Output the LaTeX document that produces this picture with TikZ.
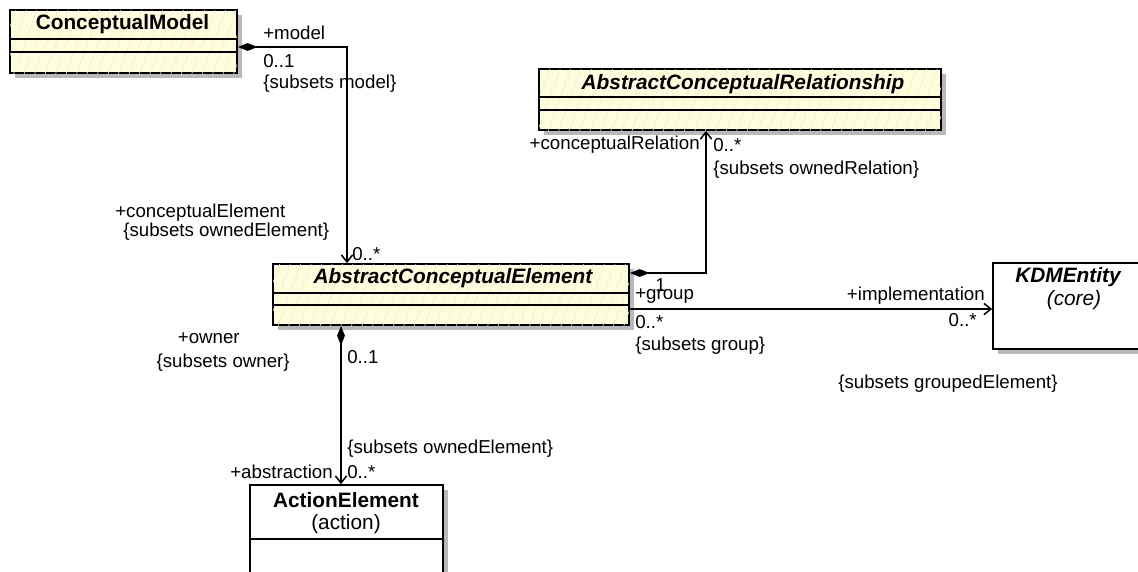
\documentclass[tikz,border=0pt]{standalone}
\usepackage{fontspec}
\setmainfont{Liberation Sans}
\usetikzlibrary{arrows.meta, positioning, calc, fit, shadows, patterns.meta}
\definecolor{classfill}{RGB}{255,253,220}
\definecolor{hatch}{RGB}{240,236,206}
\newcommand{\lblfont}{\fontsize{13.3}{15}\selectfont}
\newcommand{\clsfont}{\fontsize{14.8}{17}\selectfont}

\begin{document}
\begin{tikzpicture}[x=0.025cm, y=-0.025cm,
  classbox/.style={draw, line width=1.2pt, fill=classfill, inner sep=0pt,
    drop shadow={shadow xshift=3.5pt, shadow yshift=-3.5pt, opacity=1, fill=gray!55},
    postaction={pattern={Lines[angle=70, distance=7pt, line width=0.4pt]}, pattern color=hatch}},
  plainbox/.style={draw, line width=1.2pt, fill=white, inner sep=0pt,
    drop shadow={shadow xshift=3.5pt, shadow yshift=-3.5pt, opacity=1, fill=gray!55}},
  clsname/.style={font=\clsfont\bfseries, inner sep=0pt},
  lbl/.style={font=\lblfont, inner sep=0pt},
  compo/.style={line width=1.1pt,
    {Diamond[length=14pt, width=5.5pt]}-{Straight Barb[length=5pt, width=8pt]}},
  navi/.style={line width=1.1pt, -{Straight Barb[length=5pt, width=8pt]}}]
  \useasboundingbox (0,0) rectangle (1138,572);

  % Classes
  \node[classbox, fit={(10,10) (237,73)}] (cm) {};
  \node[clsname] (cmname) at (122.5,24) {ConceptualModel};
  \draw[line width=1.2pt] (cm.west |- 0,39) -- (cm.east |- 0,39);
  \draw[line width=1.2pt] (cm.west |- 0,52) -- (cm.east |- 0,52);

  \node[classbox, fit={(539,69) (941,130)}] (acr) {};
  \node[clsname, font=\clsfont\bfseries\itshape] (acrname) at (743,84) {AbstractConceptualRelationship};
  \draw[line width=1.2pt] (acr.west |- 0,97) -- (acr.east |- 0,97);
  \draw[line width=1.2pt] (acr.west |- 0,110) -- (acr.east |- 0,110);

  \node[classbox, fit={(273,264) (629,325)}] (ace) {};
  \node[clsname, font=\clsfont\bfseries\itshape] (acename) at (453,278) {AbstractConceptualElement};
  \draw[line width=1.2pt] (ace.west |- 0,293) -- (ace.east |- 0,293);
  \draw[line width=1.2pt] (ace.west |- 0,305) -- (ace.east |- 0,305);

  \node[plainbox, fit={(993,263) (1147,349)}] (kdm) {};
  \node[clsname, font=\clsfont\bfseries\itshape] (kdmname) at (1068,277) {KDMEntity};
  \node[lbl, font=\clsfont\itshape] (kdmpkg) at (1074,300) {(core)};

  \node[plainbox, fit={(250,485) (443,590)}] (act) {};
  \node[clsname] (actname) at (346,500) {ActionElement};
  \node[lbl, font=\clsfont] (actpkg) at (346,524) {(action)};
  \draw[line width=1.2pt] (act.west |- 0,539) -- (act.east |- 0,539);

  % Associations
  \draw[compo] (cm.east |- 0,47) -| (ace.north -| 347,0);
  \draw[compo] (ace.east |- 0,273) -| (acr.south -| 706,0);
  \draw[navi] (ace.east |- 0,309) -- (kdm.west |- 0,309);
  \draw[compo] (ace.south -| 341,0) -- (act.north -| 341,0);

  % Role names, multiplicities, constraints
  \node[lbl, anchor=west] (modelrole) at (263,33) {+model};
  \node[lbl, anchor=west] (modelmult) at (263,61) {0..1};
  \node[lbl, anchor=west] (modelsub) at (263,84) {\{subsets model\}};
  \node[lbl, anchor=west] (elemrole) at (115,213) {+conceptualElement};
  \node[lbl, anchor=west] (elemsub) at (123,232) {\{subsets ownedElement\}};
  \node[lbl, anchor=west] (elemmult) at (352,254) {0..*};

  \node[lbl, anchor=east] (relrole) at (700,145) {+conceptualRelation};
  \node[lbl, anchor=west] (relmult) at (713,145) {0..*};
  \node[lbl, anchor=west] (relsub) at (713,170) {\{subsets ownedRelation\}};

  \node[lbl, anchor=west] (ownone) at (655,285) {1};
  \node[lbl, anchor=west] (grouprole) at (635,296) {+group};
  \node[lbl, anchor=west] (groupmult) at (635,322) {0..*};
  \node[lbl, anchor=west] (groupsub) at (635,346) {\{subsets group\}};
  \node[lbl, anchor=east] (implrole) at (985,296) {+implementation};
  \node[lbl, anchor=east] (implmult) at (977,320) {0..*};
  \node[lbl, anchor=west] (implsub) at (838,384) {\{subsets groupedElement\}};

  \node[lbl, anchor=east] (ownerrole) at (240,338) {+owner};
  \node[lbl, anchor=east] (ownersub) at (290,363) {\{subsets owner\}};
  \node[lbl, anchor=west] (ownermult) at (347,357) {0..1};
  \node[lbl, anchor=west] (abstrsub) at (347,449) {\{subsets ownedElement\}};
  \node[lbl, anchor=east] (abstrrole) at (333,472) {+abstraction};
  \node[lbl, anchor=west] (abstrmult) at (347,472) {0..*};
\end{tikzpicture}
\end{document}
